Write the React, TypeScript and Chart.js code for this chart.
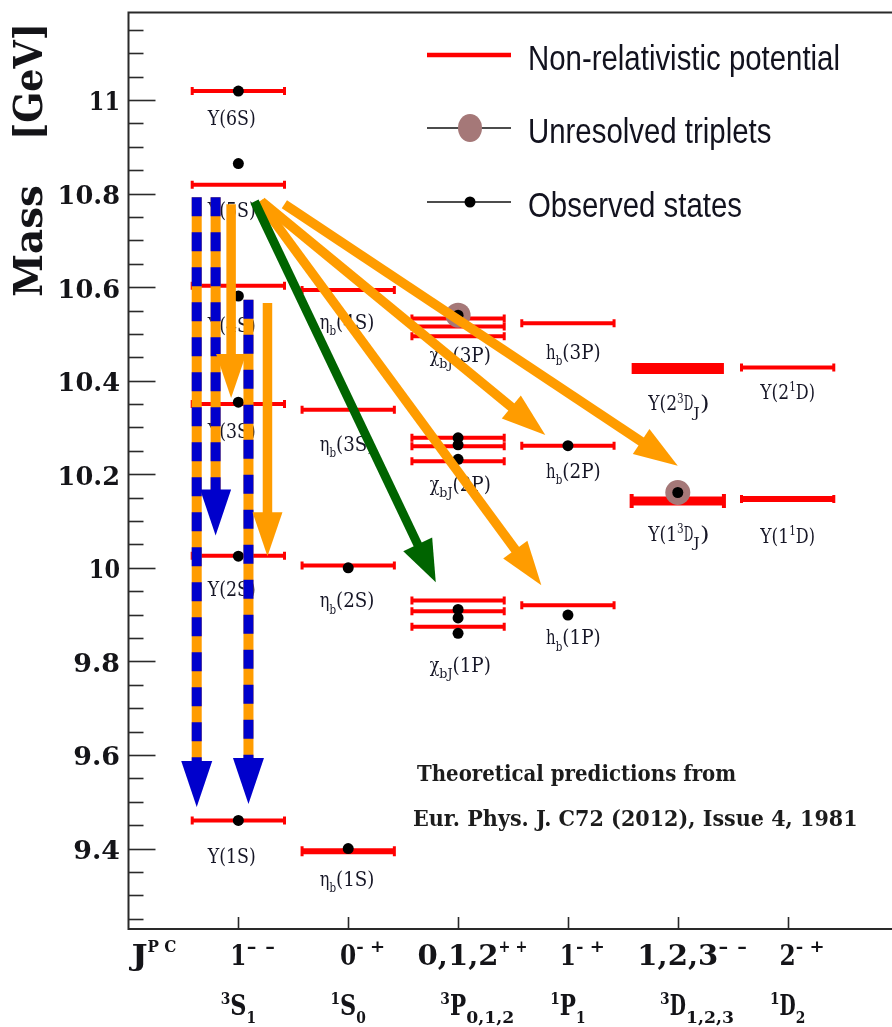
import React, { useEffect, useRef } from "react";
import { Chart, registerables } from "chart.js";

Chart.register(...registerables);

// ---------------- data ----------------
const columnValues = [1, 2, 3, 4, 5, 6];
const jpcHeader = "J^{P C}";
const jpcLabels = ["1^{- -}", "0^{- +}", "0,1,2^{+ +}", "1^{- +}", "1,2,3^{- -}", "2^{- +}"];
const termLabels = ["^{3}S_{1}", "^{1}S_{0}", "^{3}P_{0,1,2}", "^{1}P_{1}", "^{3}D_{1,2,3}", "^{1}D_{2}"];

const yMin = 9.228;
const yMax = 11.187;
const yTickValues = [9.4, 9.6, 9.8, 10, 10.2, 10.4, 10.6, 10.8, 11];
const yTickLabels = ["9.4", "9.6", "9.8", "10", "10.2", "10.4", "10.6", "10.8", "11"];
const yTitle = "Mass";
const yUnit = "[GeV]";

// predicted levels (non-relativistic potential)
const levelColumn = [1, 1, 1, 1, 1, 1, 2, 2, 2, 2, 3, 3, 3, 3, 3, 3, 3, 3, 3, 4, 4, 4, 5, 5, 6, 6];
const levelMass = [
  11.019, 10.819, 10.603, 10.35, 10.026, 9.46,
  10.594, 10.338, 10.005, 9.394,
  10.533, 10.516, 10.495, 10.278, 10.26, 10.228, 9.93, 9.907, 9.874,
  10.523, 10.261, 9.92,
  10.426, 10.143,
  10.428, 10.147,
];

// observed states
const observedColumn = [1, 1, 1, 1, 1, 1, 2, 2, 3, 3, 3, 3, 3, 3, 3, 4, 4, 5];
const observedMass = [
  11.019, 10.864, 10.581, 10.354, 10.025, 9.46,
  10.0, 9.4,
  10.54, 10.278, 10.263, 10.232, 9.911, 9.893, 9.86,
  10.261, 9.899,
  10.161,
];

// unresolved triplets
const tripletColumn = [3, 5];
const tripletMass = [10.54, 10.161];

// state names
const stateNames = [
  "Υ(6S)", "Υ(5S)", "Υ(4S)", "Υ(3S)", "Υ(2S)", "Υ(1S)",
  "η_{b}(4S)", "η_{b}(3S)", "η_{b}(2S)", "η_{b}(1S)",
  "χ_{bJ}(3P)", "χ_{bJ}(2P)", "χ_{bJ}(1P)",
  "h_{b}(3P)", "h_{b}(2P)", "h_{b}(1P)",
  "Υ(2^{3}D_{J})", "Υ(1^{3}D_{J})", "Υ(2^{1}D)", "Υ(1^{1}D)",
];
const stateLabelX = [0.94, 0.94, 0.94, 0.94, 0.94, 0.94, 1.99, 1.99, 1.99, 1.99, 3.02, 3.02, 3.02, 4.05, 4.05, 4.05, 5.01, 5.01, 6.0, 6.0];
const stateLabelMass = [
  10.958, 10.762, 10.516, 10.288, 9.95, 9.381,
  10.522, 10.261, 9.927, 9.332,
  10.452, 10.176, 9.789,
  10.458, 10.203, 9.848,
  10.348, 10.069, 10.373, 10.065,
];

// transitions (arrows)
const arrowFromX = [0.621, 0.793, 1.092, 0.934, 1.265, 1.192, 1.21, 1.419, 1.147];
const arrowFromMass = [10.792, 10.792, 10.573, 10.777, 10.566, 10.783, 10.783, 10.777, 10.783];
const arrowToX = [0.621, 0.793, 1.092, 0.934, 1.265, 3.758, 3.794, 5.0, 2.797];
const arrowToMass = [9.489, 10.069, 9.495, 10.363, 10.025, 9.963, 10.284, 10.218, 9.969];
const arrowKind = ["dashed", "dashed", "dashed", "orange", "orange", "orange", "orange", "orange", "green"];

const legendLabels = ["Non-relativistic potential", "Unresolved triplets", "Observed states"];
const noteLines = ["Theoretical predictions from", "Eur. Phys. J. C72 (2012), Issue 4, 1981"];

// ---------------- styles ----------------
const RED = "#ff0000";
const ORANGE = "#ff9c00";
const BLUE = "#0000cc";
const GREEN = "#006400";
const MAUVE = "#a57878";
const INK = "#141418";
const SERIF = "'DejaVu Serif', 'Liberation Serif', serif";
const SANS = "'Liberation Sans', Arial, sans-serif";
const HALF = 0.42;
const CANVAS_W = 910;
const CANVAS_H = 1027;

const thickLevels: Record<number, [number, number, number]> = {
  9: [6, 5, 3],
  22: [11, 0, 0],
  23: [9, 7, 4],
  25: [6, 4, 3],
};

const arrowStyles: Record<string, any> = {
  dashed: { width: 10, headW: 31, headL: 46, color: ORANGE, dashColor: BLUE, headColor: BLUE },
  orange: { width: 9.5, headW: 30, headL: 44, color: ORANGE, headColor: ORANGE },
  green: { width: 9, headW: 32, headL: 42, color: GREEN, headColor: GREEN },
};

// draw text in a serif face squeezed to monospace (Courier-like) advance widths
function monoWidth(t: string, size: number) {
  return t.length * 0.6 * size;
}
function monoText(ctx: CanvasRenderingContext2D, t: string, left: number, y: number, size: number, weight: string) {
  ctx.font = `${weight} ${size}px ${SERIF}`;
  const nat = ctx.measureText(t).width || 1;
  const target = monoWidth(t, size);
  ctx.save();
  ctx.translate(left, y);
  ctx.scale(target / nat, 1);
  ctx.textAlign = "left";
  ctx.fillText(t, 0, 0);
  ctx.restore();
  return target;
}

type Run = { t: string; k: "n" | "sup" | "sub" };

function parseRich(s: string): Run[] {
  const runs: Run[] = [];
  let buf = "";
  let i = 0;
  while (i < s.length) {
    const c = s[i];
    if ((c === "^" || c === "_") && s[i + 1] === "{") {
      if (buf) {
        runs.push({ t: buf, k: "n" });
        buf = "";
      }
      const end = s.indexOf("}", i + 2);
      runs.push({ t: s.slice(i + 2, end), k: c === "^" ? "sup" : "sub" });
      i = end + 1;
    } else {
      buf += c;
      i++;
    }
  }
  if (buf) runs.push({ t: buf, k: "n" });
  return runs;
}

function drawRich(ctx: CanvasRenderingContext2D, s: string, x: number, y: number, o: any) {
  const runs = parseRich(s);
  const sizeFor = (k: string) => (k === "n" ? o.size : o.scriptSize);
  const widths = runs.map((r) => monoWidth(r.t, sizeFor(r.k)));
  let total = 0;
  let mainStart = -1;
  let mainEnd = 0;
  runs.forEach((r, i) => {
    if (r.k === "n") {
      if (mainStart < 0) mainStart = total;
      mainEnd = total + widths[i];
    }
    total += widths[i];
  });
  if (mainStart < 0) mainStart = 0;
  let cx = o.anchor === "main" ? x - (mainStart + mainEnd) / 2 : x - total / 2;
  ctx.save();
  ctx.translate(0, y);
  const sy = o.stretchY || 1;
  ctx.scale(1, sy);
  ctx.fillStyle = o.color;
  ctx.textBaseline = o.baseline || "middle";
  runs.forEach((r, i) => {
    const dy = r.k === "sup" ? o.supDy : r.k === "sub" ? o.subDy : 0;
    monoText(ctx, r.t, cx, dy / sy, sizeFor(r.k), o.weight);
    cx += widths[i];
  });
  ctx.restore();
}

function drawArrow(ctx: CanvasRenderingContext2D, x0: number, y0: number, x1: number, y1: number, st: any) {
  const dx = x1 - x0;
  const dy = y1 - y0;
  const len = Math.hypot(dx, dy);
  const ux = dx / len;
  const uy = dy / len;
  const nx = -uy;
  const ny = ux;
  const bx = x1 - ux * st.headL;
  const by = y1 - uy * st.headL;
  ctx.save();
  ctx.lineCap = "butt";
  ctx.lineWidth = st.width;
  ctx.strokeStyle = st.color;
  ctx.beginPath();
  ctx.moveTo(x0, y0);
  ctx.lineTo(bx + ux, by + uy);
  ctx.stroke();
  if (st.dashColor) {
    ctx.setLineDash([19, 16]);
    ctx.strokeStyle = st.dashColor;
    ctx.beginPath();
    ctx.moveTo(x0, y0);
    ctx.lineTo(bx + ux, by + uy);
    ctx.stroke();
    ctx.setLineDash([]);
  }
  ctx.fillStyle = st.headColor;
  ctx.beginPath();
  ctx.moveTo(x1, y1);
  ctx.lineTo(bx + (nx * st.headW) / 2, by + (ny * st.headW) / 2);
  ctx.lineTo(bx - (nx * st.headW) / 2, by - (ny * st.headW) / 2);
  ctx.closePath();
  ctx.fill();
  ctx.restore();
}

const spectrumPlugin = {
  id: "spectrum",
  beforeDatasetsDraw(chart: any) {
    const { ctx, chartArea: a, scales } = chart;
    const ys = scales.y;
    const xs = scales.x;
    ctx.save();
    ctx.strokeStyle = "#2a2a2a";
    ctx.lineWidth = 2;
    ctx.strokeRect(a.left, a.top, a.right - a.left, a.bottom - a.top);
    ctx.lineWidth = 1.6;
    for (let k = Math.ceil(yMin / 0.05); k * 0.05 <= yMax; k++) {
      const v = k * 0.05;
      const major = yTickValues.some((t) => Math.abs(t - v) < 1e-6);
      const py = Math.round(ys.getPixelForValue(v)) + 0.5;
      ctx.beginPath();
      ctx.moveTo(a.left, py);
      ctx.lineTo(a.left + (major ? 27 : 15), py);
      ctx.stroke();
    }
    columnValues.concat([7]).forEach((c) => {
      const px = Math.round(xs.getPixelForValue(c)) + 0.5;
      ctx.beginPath();
      ctx.moveTo(px, a.bottom);
      ctx.lineTo(px, a.bottom - 12);
      ctx.stroke();
    });
    ctx.restore();
  },
  afterDatasetsDraw(chart: any) {
    const { ctx, scales } = chart;
    const xs = scales.x;
    const ys = scales.y;
    stateNames.forEach((name, i) => {
      drawRich(ctx, name, xs.getPixelForValue(stateLabelX[i]), ys.getPixelForValue(stateLabelMass[i]), {
        weight: "normal",
        size: 16,
        scriptSize: 11,
        supDy: -6,
        subDy: 8,
        color: "#161626",
        anchor: "all",
        stretchY: 1.25,
      });
    });
    ctx.save();
    ctx.fillStyle = "#1c1c1c";
    ctx.textBaseline = "middle";
    [[417, 775], [413, 820]].forEach(([x, y], i) => {
      ctx.save();
      ctx.translate(0, y);
      ctx.scale(1, 1.15);
      monoText(ctx, noteLines[i], x, 0, 19, "bold");
      ctx.restore();
    });
    ctx.restore();
    arrowKind.forEach((kind, i) => {
      drawArrow(
        ctx,
        xs.getPixelForValue(arrowFromX[i]),
        ys.getPixelForValue(arrowFromMass[i]),
        xs.getPixelForValue(arrowToX[i]),
        ys.getPixelForValue(arrowToMass[i]),
        arrowStyles[kind]
      );
    });
  },
  afterDraw(chart: any) {
    const { ctx, scales } = chart;
    const xs = scales.x;
    const ys = scales.y;
    ctx.save();
    // y tick labels
    ctx.fillStyle = INK;
    ctx.textBaseline = "alphabetic";
    ctx.font = `bold 26px ${SERIF}`;
    const digitH = ctx.measureText("0").actualBoundingBoxAscent || 19;
    yTickValues.forEach((v, i) => {
      const t = yTickLabels[i];
      monoText(ctx, t, 120 - monoWidth(t, 26), ys.getPixelForValue(v) + digitH / 2 + 1, 26, "bold");
    });
    // y title
    ctx.save();
    ctx.translate(42, 0);
    ctx.rotate(-Math.PI / 2);
    ctx.font = `bold 40px ${SERIF}`;
    ctx.textAlign = "left";
    ctx.textBaseline = "alphabetic";
    let w = ctx.measureText(yTitle).width;
    ctx.save();
    ctx.translate(-297, 0);
    ctx.scale(112 / w, 1);
    ctx.fillText(yTitle, 0, 0);
    ctx.restore();
    w = ctx.measureText(yUnit).width;
    ctx.save();
    ctx.translate(-140, 0);
    ctx.scale(117 / w, 1);
    ctx.fillText(yUnit, 0, 0);
    ctx.restore();
    ctx.restore();
    // x labels
    const axisOpts = {
      weight: "bold",
      size: 27,
      scriptSize: 16,
      color: INK,
      anchor: "main",
      baseline: "alphabetic",
    };
    drawRich(ctx, jpcHeader, xs.getPixelForValue(0.1), 965, { ...axisOpts, supDy: -13, subDy: 8 });
    columnValues.forEach((c, i) => {
      const px = xs.getPixelForValue(c);
      drawRich(ctx, jpcLabels[i], px, 965, { ...axisOpts, supDy: -13, subDy: 8 });
      drawRich(ctx, termLabels[i], px, 1015, { ...axisOpts, supDy: -11, subDy: 8 });
    });
    // legend
    ctx.font = `35px ${SANS}`;
    const sq = 312 / ctx.measureText(legendLabels[0]).width;
    const lineY = [55, 128, 202];
    const baseY = [70, 143, 217];
    legendLabels.forEach((lab, i) => {
      ctx.save();
      if (i === 0) {
        ctx.strokeStyle = RED;
        ctx.lineWidth = 4.5;
      } else {
        ctx.strokeStyle = "#111";
        ctx.lineWidth = 1.5;
      }
      ctx.beginPath();
      ctx.moveTo(427, lineY[i]);
      ctx.lineTo(511, lineY[i]);
      ctx.stroke();
      if (i === 1) {
        ctx.fillStyle = MAUVE;
        ctx.beginPath();
        ctx.ellipse(470, lineY[i], 12, 14, 0, 0, Math.PI * 2);
        ctx.fill();
      }
      if (i === 2) {
        ctx.fillStyle = "#000";
        ctx.beginPath();
        ctx.arc(470, lineY[i], 5.5, 0, Math.PI * 2);
        ctx.fill();
      }
      ctx.translate(528, baseY[i]);
      ctx.scale(sq, 1);
      ctx.fillStyle = "#12121e";
      ctx.font = `35px ${SANS}`;
      ctx.textAlign = "left";
      ctx.textBaseline = "alphabetic";
      ctx.fillText(lab, 0, 0);
      ctx.restore();
    });
    ctx.restore();
  },
};

export default function App() {
  const ref = useRef<HTMLCanvasElement | null>(null);
  useEffect(() => {
    if (!ref.current) return;
    const levelDatasets = levelMass.map((m, i) => {
      const c = levelColumn[i];
      const st = thickLevels[i] || [4, 4, 3];
      return {
        label: "level " + i,
        data: [
          { x: c - HALF, y: m },
          { x: c + HALF, y: m },
        ],
        showLine: true,
        borderColor: RED,
        borderWidth: st[0],
        pointStyle: "line",
        pointRotation: 90,
        pointRadius: st[1],
        pointHoverRadius: st[1],
        pointBorderWidth: st[2],
        pointBorderColor: RED,
        pointBackgroundColor: RED,
        order: 3,
      };
    });
    const chart = new Chart(ref.current, {
      type: "scatter",
      data: {
        datasets: [
          ...levelDatasets,
          {
            label: "Unresolved triplets",
            data: tripletMass.map((m, i) => ({ x: tripletColumn[i], y: m })),
            pointRadius: 12.5,
            pointBackgroundColor: MAUVE,
            pointBorderWidth: 0,
            order: 2,
          },
          {
            label: "Observed states",
            data: observedMass.map((m, i) => ({ x: observedColumn[i], y: m })),
            pointRadius: 5.5,
            pointBackgroundColor: "#000",
            pointBorderWidth: 0,
            order: 1,
          },
        ] as any,
      },
      options: {
        responsive: false,
        animation: false,
        devicePixelRatio: 1,
        events: [],
        layout: { padding: { left: 128.5, right: CANVAS_W - 900.5, top: 7, bottom: CANVAS_H - 929 } },
        plugins: { legend: { display: false }, tooltip: { enabled: false } },
        scales: {
          x: { type: "linear", min: 0, max: 7, display: false },
          y: { type: "linear", min: yMin, max: yMax, display: false },
        },
      } as any,
      plugins: [spectrumPlugin],
    });
    return () => chart.destroy();
  }, []);
  return (
    <div
      style={{
        position: "absolute",
        left: 0,
        top: 0,
        width: 892,
        height: 1027,
        overflow: "hidden",
        background: "#fff",
      }}
    >
      <canvas ref={ref} width={CANVAS_W} height={CANVAS_H} style={{ display: "block" }} />
    </div>
  );
}
